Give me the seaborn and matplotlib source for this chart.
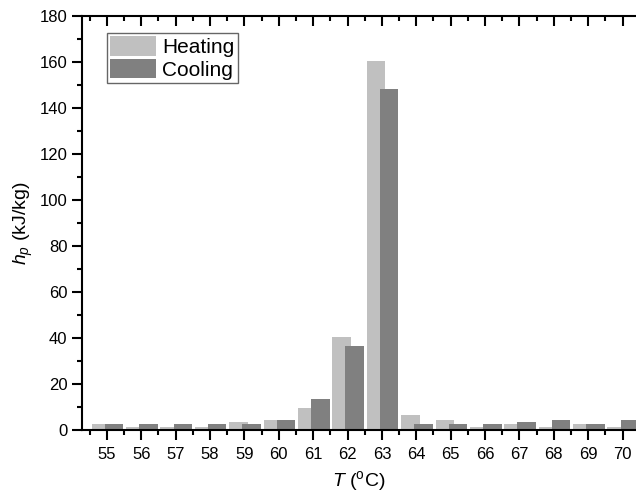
import matplotlib.pyplot as plt
import numpy as np
import pandas as pd
import seaborn as sns
from matplotlib.patches import Patch
from matplotlib.ticker import MultipleLocator

# === Data ===
temps = list(range(55, 71))
heating = [2.6, 1.3, 1.3, 1.3, 3.5, 4.3, 9.4, 40.4, 160.2, 6.5, 4.3, 1.3, 2.6, 1.3, 2.6, 1.3]
cooling = [2.6, 2.6, 2.6, 2.6, 2.6, 4.3, 13.3, 36.5, 148.1, 2.6, 2.6, 2.6, 3.3, 4.3, 2.6, 4.3]
series_names = ["Heating", "Cooling"]
series_colors = ["#c0c0c0", "#808080"]

# === Style ===
plt.switch_backend("Agg")
sns.set_style("ticks")
plt.rcParams["font.family"] = ["Liberation Sans", "DejaVu Sans"]
plt.rcParams["mathtext.fontset"] = "custom"
plt.rcParams["mathtext.rm"] = "Liberation Sans"
plt.rcParams["mathtext.it"] = "Liberation Sans:italic"
plt.rcParams["text.color"] = "black"
plt.rcParams["axes.labelcolor"] = "black"
plt.rcParams["xtick.color"] = "black"
plt.rcParams["ytick.color"] = "black"


def build_frames():
    t = np.array(temps, dtype=float)
    # Origin-style overlapping bars: heating shifted left, cooling right
    heat = pd.DataFrame({"T": t - 0.17, "h": heating, "mode": "Heating"})
    cool = pd.DataFrame({"T": t + 0.21, "h": cooling, "mode": "Cooling"})
    return heat, cool


def main() -> None:
    heat, cool = build_frames()

    fig = plt.figure(figsize=(6.36, 4.98), dpi=100)
    ax = fig.add_axes([0.129, 0.1365, 0.871, 0.832])

    sns.barplot(data=heat, x="T", y="h", native_scale=True, width=0.54,
                color=series_colors[0], saturation=1, linewidth=0, ax=ax)
    sns.barplot(data=cool, x="T", y="h", native_scale=True, width=0.54,
                color=series_colors[1], saturation=1, linewidth=0, ax=ax)

    ax.set_xlim(54.28, 70.39)
    ax.set_ylim(0, 180)
    ax.xaxis.set_minor_locator(MultipleLocator(0.5))
    ax.yaxis.set_major_locator(MultipleLocator(20))
    ax.yaxis.set_minor_locator(MultipleLocator(10))
    ax.set_xticks(temps)
    ax.set_xticklabels([str(t) for t in temps])

    ax.tick_params(axis="both", which="major", labelsize=12, length=7, width=1.5,
                   direction="out", pad=3.5)
    ax.tick_params(axis="x", which="major", pad=5)
    ax.tick_params(axis="both", which="minor", length=3.5, width=1.5,
                   direction="out")
    ax.tick_params(axis="x", top=True, which="both")
    # top ticks point into the plot
    for tick in ax.xaxis.get_major_ticks() + ax.xaxis.get_minor_ticks():
        tick.tick2line.set_marker(3)  # TICKDOWN

    ax.spines["right"].set_visible(False)
    for side in ["left", "bottom", "top"]:
        ax.spines[side].set_linewidth(1.5)
        ax.spines[side].set_color("black")

    ax.set_xlabel(r"$T$ ($\mathregular{^o}$C)", fontsize=14, labelpad=5)
    ax.set_ylabel(r"$h_p$ (kJ/kg)", fontsize=14)
    ax.yaxis.set_label_coords(-0.085, 0.5)

    handles = [Patch(facecolor=c, edgecolor="none") for c in series_colors]
    leg = ax.legend(handles, series_names, loc="upper left",
                    bbox_to_anchor=(0.045, 0.958), fontsize=15, frameon=True,
                    fancybox=False, handlelength=2.2, handleheight=1.05,
                    handletextpad=0.3, borderpad=0.15, labelspacing=0.1,
                    borderaxespad=0)
    leg.get_frame().set_edgecolor("#404040")
    leg.get_frame().set_linewidth(1.0)

    fig.savefig("out.png", dpi=100)
    plt.close(fig)


if __name__ == "__main__":
    main()
